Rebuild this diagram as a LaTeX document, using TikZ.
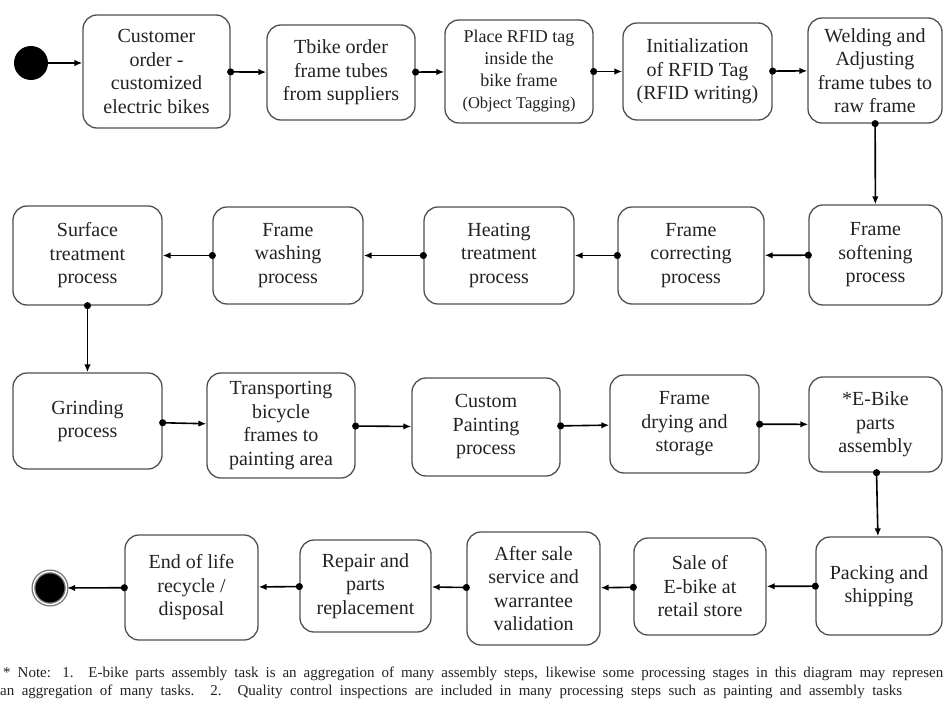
\documentclass[tikz,border=0pt]{standalone}
\usepackage{fontspec}
\setmainfont{Liberation Serif}
\usepackage{tikz}
\usetikzlibrary{arrows.meta,calc}
\definecolor{boxline}{HTML}{505050}
\definecolor{inktext}{HTML}{222222}
\tikzset{
stage/.style={
draw=boxline,
line width=1.3pt,
rounded corners=14pt,
align=center,
inner sep=2pt,
text=inktext,
font=\fontsize{20}{23.5}\selectfont
},
arrow/.style={
-{Latex[length=8pt,width=6.5pt]},
line width=1.6pt
},
flow/.style={
arrow,
{Circle[length=7pt]}-{Latex[length=8pt,width=6.5pt]},
shorten <=-3.5pt
},
notetext/.style={
anchor=base west,
inner sep=0pt,
text=inktext,
font=\fontsize{15}{17}\selectfont
}
}

\begin{document}
\begin{tikzpicture}[x=1pt,y=-1pt]
\useasboundingbox (0,0) rectangle (943,704);

% start and end
\node[circle,fill=black,inner sep=0pt,minimum size=34pt](start) at (31,63){};
\node[circle,fill=black,draw=black!55,double=white,double distance=1.4pt,line width=1.3pt,inner sep=0pt,minimum size=33pt](finish) at (50,588){};

% row 1
\node[stage,minimum width=147pt,minimum height=113pt](order) at (156.5,71.5){Customer\\order -\\customized\\electric bikes};
\node[stage,minimum width=148pt,minimum height=95pt](tubes) at (341,72.5){Tbike order\\frame tubes\\from suppliers};
\node[stage,minimum width=148pt,minimum height=103pt,font=\fontsize{18}{22}\selectfont](tag) at (519,71.5){Place RFID tag\\inside the\\bike frame\\{\fontsize{16.5}{22}\selectfont(Object Tagging)}};
\node[stage,minimum width=149pt,minimum height=97pt](rfid) at (697.5,71.5){Initialization\\of RFID Tag\\(RFID writing)};
\node[stage,minimum width=134pt,minimum height=105pt](weld) at (875,70.5){Welding and\\Adjusting\\frame tubes to\\raw frame};

% row 2
\node[stage,minimum width=149pt,minimum height=99pt](surface) at (87.5,255.5){Surface\\treatment\\process};
\node[stage,minimum width=150pt,minimum height=97pt](wash) at (288,255.5){Frame\\washing\\process};
\node[stage,minimum width=150pt,minimum height=97pt](heat) at (499,255.5){Heating\\treatment\\process};
\node[stage,minimum width=146pt,minimum height=97pt](correct) at (691,255.5){Frame\\correcting\\process};
\node[stage,minimum width=133pt,minimum height=100pt](soften) at (875.5,255){Frame\\softening\\process};

% row 3
\node[stage,minimum width=149pt,minimum height=96pt](grind) at (87.5,421){Grinding\\process};
\node[stage,minimum width=148pt,minimum height=105pt](transport) at (281,425.5){Transporting\\bicycle\\frames to\\painting area};
\node[stage,minimum width=148pt,minimum height=98pt](paint) at (486,427){Custom\\Painting\\process};
\node[stage,minimum width=149pt,minimum height=98pt](dry) at (684.5,424){Frame\\drying and\\storage};
\node[stage,minimum width=133pt,minimum height=95pt](assembly) at (875.5,424.5){*E-Bike\\parts\\assembly};

% row 4
\node[stage,minimum width=126pt,minimum height=98pt](pack) at (879,586){Packing and\\shipping};
\node[stage,minimum width=132pt,minimum height=97pt](sale) at (700,586.5){Sale of\\E-bike at\\retail store};
\node[stage,minimum width=133pt,minimum height=113pt](service) at (533.5,588.5){After sale\\service and\\warrantee\\validation};
\node[stage,minimum width=131pt,minimum height=92pt](repair) at (365.5,586){Repair and\\parts\\replacement};
\node[stage,minimum width=133pt,minimum height=105pt](recycle) at (191.5,587.5){End of life\\recycle /\\disposal};

% note
\node[notetext](note1) at (3,677){\makebox[940pt][s]{* Note: 1. E-bike parts assembly task is an aggregation of many assembly steps, likewise some processing stages in this diagram may represen}};
\node[notetext](note2) at (0,695){\makebox[902pt][s]{an aggregation of many tasks. 2. Quality control inspections are included in many processing steps such as painting and assembly tasks}};

% connectors
\draw[arrow](start)--(start -| order.west);
\foreach \x/\y in {order/tubes,tubes/tag,tag/rfid,rfid/weld,weld/soften,soften/correct,correct/heat,heat/wash,wash/surface,surface/grind,grind/transport,transport/paint,paint/dry,dry/assembly,assembly/pack,pack/sale,sale/service,service/repair,repair/recycle,recycle/finish}
\draw[flow](\x)--(\y);
\end{tikzpicture}
\end{document}
